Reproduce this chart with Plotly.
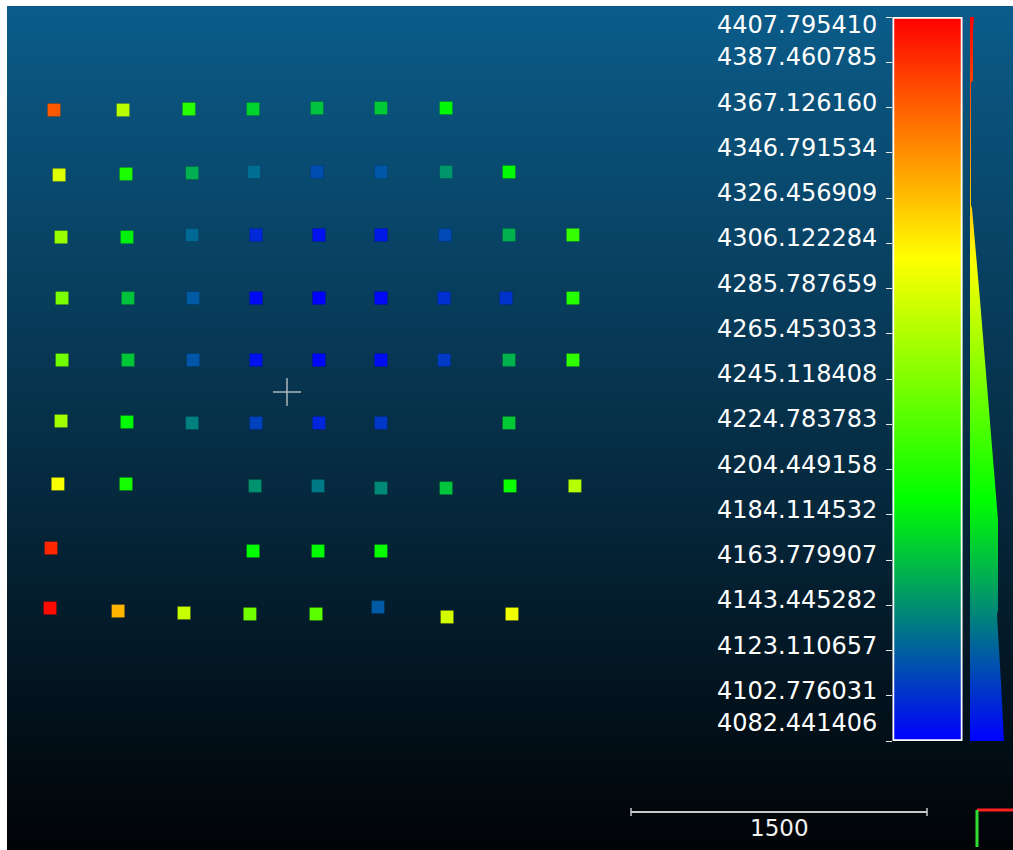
import plotly.graph_objects as go

# ---- survey points: planar position (m) and elevation scalar field ----
easting = [
    238, 588, 922, 1247, 1571, 1895, 2225,
    264, 603, 938, 1252, 1571, 1895, 2225, 2544,
    274, 608, 938, 1262, 1581, 1895, 2220, 2544, 2868,
    279, 613, 943, 1262, 1581, 1895, 2215, 2529, 2868,
    279, 613, 943, 1262, 1581, 1895, 2215, 2544, 2868,
    274, 608, 938, 1262, 1581, 1895, 2544,
    258, 603, 1257, 1576, 1895, 2225, 2549, 2878,
    223, 1247, 1576, 1895,
    218, 563, 897, 1231, 1566, 1880, 2230, 2559,
]
northing = [
    3750, 3750, 3755, 3755, 3760, 3760, 3760,
    3421, 3426, 3431, 3436, 3436, 3436, 3436, 3436,
    3106, 3106, 3117, 3117, 3117, 3117, 3117, 3117, 3117,
    2797, 2797, 2797, 2797, 2797, 2797, 2797, 2797, 2797,
    2483, 2483, 2483, 2483, 2483, 2483, 2483, 2483, 2483,
    2174, 2169, 2164, 2164, 2164, 2164, 2164,
    1855, 1855, 1845, 1845, 1834, 1834, 1845, 1845,
    1530, 1515, 1515, 1515,
    1226, 1211, 1201, 1196, 1196, 1231, 1181, 1196,
]
elevation = [
    4370, 4270, 4207, 4172, 4165, 4168, 4188,
    4285, 4203, 4157, 4129, 4115, 4119, 4146, 4189,
    4256, 4185, 4127, 4099, 4090, 4093, 4114, 4158, 4214,
    4243, 4165, 4121, 4087, 4083, 4086, 4103, 4104, 4206,
    4239, 4167, 4119, 4090, 4085, 4088, 4107, 4158, 4211,
    4259, 4189, 4137, 4110, 4098, 4106, 4168,
    4297, 4200, 4144, 4134, 4141, 4166, 4196, 4268,
    4391, 4190, 4190, 4194,
    4403, 4331, 4276, 4239, 4230, 4121, 4280, 4294,
]

# ---- colour scale labels (min .. max of the scalar field) ----
tick_labels = [
    "4407.795410", "4387.460785", "4367.126160", "4346.791534",
    "4326.456909", "4306.122284", "4285.787659", "4265.453033",
    "4245.118408", "4224.783783", "4204.449158", "4184.114532",
    "4163.779907", "4143.445282", "4123.110657", "4102.776031",
    "4082.441406",
]

# ---- scalar-field histogram profile drawn beside the scale ----
hist_levels = [4407.8, 4402.0, 4379.5, 4378.1, 4323.3, 4322.0, 4280.6,
               4235.7, 4190.7, 4181.8, 4141.3, 4139.1, 4108.5, 4082.4]
hist_counts = [4, 3, 3, 1, 1, 2, 10, 18, 26, 28, 28, 27, 31, 34]

scale_length = 1500  # m

# ---- derived values ----
tick_values = [float(t) for t in tick_labels]
vmin, vmax = min(tick_values), max(tick_values)

BGYR = [[0.0, "rgb(0,0,255)"], [1 / 3, "rgb(0,255,0)"],
        [2 / 3, "rgb(255,255,0)"], [1.0, "rgb(255,0,0)"]]

W, H = 1013, 850
ML, MT = 7, 6
PW, PH = W - ML, H - MT
view_w = 5098.0          # metres spanned by the view horizontally
view_h = view_w * PH / PW


def px_x(p):
    return (p - ML) / PW


def px_y(p):
    return (H - p) / PH


FONT = "DejaVu Sans"
fig = go.Figure()

# gradient background of the 3D view
fig.add_trace(go.Scatter(
    x=[0, view_w, view_w, 0], y=[0, 0, view_h, view_h],
    mode="lines", line=dict(width=0), fill="toself",
    fillgradient=dict(type="vertical", start=0, stop=view_h,
                      colorscale=[[0, "#010306"], [1, "#0B5C8A"]]),
    hoverinfo="skip", showlegend=False))

# points coloured by elevation
fig.add_trace(go.Scatter(
    x=easting, y=northing, mode="markers",
    marker=dict(symbol="square", size=13, color=elevation,
                colorscale=BGYR, cmin=vmin, cmax=vmax,
                line=dict(width=0.6, color="rgba(0,0,0,0.2)")),
    hoverinfo="skip", showlegend=False))

# colour ramp
fig.add_trace(go.Scatter(
    x=[0, 1, 1, 0], y=[vmin, vmin, vmax, vmax], xaxis="x2", yaxis="y2",
    mode="lines", line=dict(width=0), fill="toself",
    fillgradient=dict(type="vertical", start=vmin, stop=vmax, colorscale=BGYR),
    hoverinfo="skip", showlegend=False))

# histogram of the scalar field
fig.add_trace(go.Scatter(
    x=hist_counts, y=hist_levels, xaxis="x3", yaxis="y3",
    mode="lines", line=dict(width=0), fill="tozerox",
    fillgradient=dict(type="vertical", start=vmin, stop=vmax, colorscale=BGYR),
    hoverinfo="skip", showlegend=False))

bar_dom_y = [px_y(741), px_y(17)]
shapes = []
# ramp frame
shapes.append(dict(type="rect", xref="x2", yref="y2", x0=0, x1=1, y0=vmin, y1=vmax,
                   line=dict(color="white", width=3.5)))

# scale bar
sb_x0 = (631 - ML) * view_w / PW
sb_y = (H - 812) * view_h / PH
cap = 4 * view_h / PH
sb_col = "#c8c8c8"
shapes.append(dict(type="line", xref="x", yref="y", x0=sb_x0, x1=sb_x0 + scale_length,
                   y0=sb_y, y1=sb_y, line=dict(color=sb_col, width=2)))
for xe in (sb_x0, sb_x0 + scale_length):
    shapes.append(dict(type="line", xref="x", yref="y", x0=xe, x1=xe,
                       y0=sb_y - cap, y1=sb_y + cap, line=dict(color=sb_col, width=1.5)))

# pivot crosshair
cx, cy = (287 - ML) * view_w / PW, (H - 392) * view_h / PH
arm = 14 * view_w / PW
ch_col = "#aeb6be"
shapes.append(dict(type="line", xref="x", yref="y", x0=cx - arm, x1=cx + arm, y0=cy, y1=cy,
                   line=dict(color=ch_col, width=1.5)))
shapes.append(dict(type="line", xref="x", yref="y", x0=cx, x1=cx, y0=cy - arm, y1=cy + arm,
                   line=dict(color=ch_col, width=1.5)))

# axis triad
shapes.append(dict(type="line", xref="paper", yref="paper", x0=px_x(977), x1=px_x(1013),
                   y0=px_y(810), y1=px_y(810), line=dict(color="#ff2020", width=3)))
shapes.append(dict(type="line", xref="paper", yref="paper", x0=px_x(977), x1=px_x(977),
                   y0=px_y(810), y1=px_y(847), line=dict(color="#2ee02e", width=3)))

annotations = []
for lab, val in zip(tick_labels, tick_values):
    if val == vmax:
        shift = -8
    elif val == vmin:
        shift = 18
    else:
        shift = 5
    annotations.append(dict(text=lab, xref="paper", yref="y2", x=px_x(879), y=val,
                            xanchor="right", yanchor="middle", yshift=shift,
                            showarrow=False, font=dict(family=FONT, size=24, color="white")))
annotations.append(dict(text=str(scale_length), xref="x", yref="y",
                        x=sb_x0 + scale_length / 2, y=sb_y, xanchor="center", yanchor="top",
                        yshift=-1, showarrow=False,
                        font=dict(family=FONT, size=23, color="#f2f2f2")))

fig.update_layout(
    width=W, height=H,
    margin=dict(l=ML, r=0, t=MT, b=0, pad=0),
    paper_bgcolor="white", plot_bgcolor="rgba(0,0,0,0)",
    hovermode=False, showlegend=False,
    xaxis=dict(domain=[0, 1], range=[0, view_w], visible=False, fixedrange=True),
    yaxis=dict(domain=[0, 1], range=[0, view_h], visible=False, fixedrange=True),
    xaxis2=dict(domain=[px_x(892.5), px_x(962.5)], range=[0, 1], visible=False,
                anchor="y2", fixedrange=True),
    yaxis2=dict(domain=bar_dom_y, range=[vmin, vmax], anchor="x2",
                showgrid=False, zeroline=False, showline=False, showticklabels=False,
                ticks="outside", ticklen=6, tickwidth=1, tickcolor="#e8e8e8",
                tickvals=tick_values, fixedrange=True),
    xaxis3=dict(domain=[px_x(970), 1], range=[0, 43], visible=False,
                anchor="y3", fixedrange=True),
    yaxis3=dict(domain=bar_dom_y, range=[vmin, vmax], anchor="x3", visible=False,
                fixedrange=True),
    shapes=shapes, annotations=annotations,
)

fig.write_html("out.html", config={"displayModeBar": False})
